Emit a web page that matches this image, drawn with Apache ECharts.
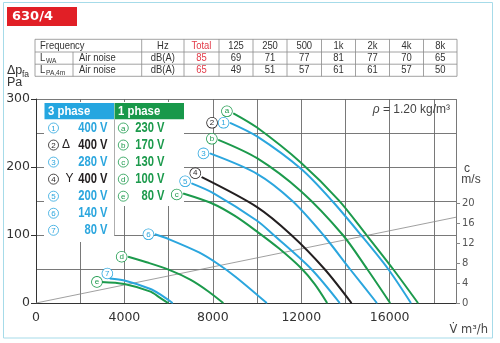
<!DOCTYPE html>
<html><head><meta charset="utf-8">
<script src="https://cdn.jsdelivr.net/npm/echarts@6/dist/echarts.min.js"></script>
<style>html,body{margin:0;padding:0;background:#fff}#c{width:500px;height:343px}</style>
</head><body><div id="c"></div>
<script>
// ---------- data ----------
const freqBands = ['125','250','500','1k','2k','4k','8k'];
const lwaValues = [69,71,77,81,77,70,65];
const lpaValues = [49,51,57,61,61,57,50];
const lwaTotal = 85;
const lpaTotal = 65;

const xTickLabels = [0,4000,8000,12000,16000];
const yTickLabels = [0,100,200,300];
const cTickLabels = [0,4,8,12,16,20];

// curves: [airflow m3/h, pressure Pa]
const curveA = [[8930,279],[10000,258],[12000,206],[13700,151],[14950,100],[16150,50],[17280,0]];
const curve1 = [[8780,265],[10000,245],[12000,197],[13400,150],[14700,100],[15930,50],[16960,0]];
const curveB = [[8250,240],[10000,213],[12000,164],[13880,100],[14980,50],[16020,0]];
const curve3 = [[7870,220],[10000,190],[11600,150],[13000,100],[14200,50],[15420,0]];
const curve4 = [[7500,185],[10000,141],[11550,100],[13050,50],[14270,0]];
const curve5 = [[7040,176],[8000,162],[10000,121],[10750,100],[12450,50],[13740,0]];
const curveC = [[6660,161],[8000,146],[9000,128],[10000,105],[11000,80],[12000,51],[12600,28],[13170,0]];
const curve6 = [[5380,101],[6000,94],[7400,74],[8250,57],[9050,38],[10440,0]];
const curveD = [[4170,68],[5000,60],[6000,49],[7000,34],[7800,17],[8470,0]];
const curve7 = [[3340,36],[4000,33],[5150,21],[5600,13],[6180,0]];
const curveE = [[2960,31],[4000,28],[5150,17],[5600,8],[5980,0]];
// velocity line: [airflow m3/h, c m/s]
const velocityLine = [[0,0],[19000,17.2]];

const threePhaseIds = ['1','2','3','4','5','6','7'];
const threePhaseMarks = ['','Δ','','Y','','',''];
const threePhaseVolts = ['400 V','400 V','280 V','400 V','200 V','140 V','80 V'];
const onePhaseIds = ['a','b','c','d','e'];
const onePhaseVolts = ['230 V','170 V','130 V','100 V','80 V'];

// ---------- styles ----------
const BLUE = '#2ba6de', GREEN = '#1c9a4c', BLACK = '#231f20', RED = '#e11f26';
const FONT = "'Liberation Sans', Arial, sans-serif";
const AXFONT = "'DejaVu Sans', sans-serif";

const el = [];
function txt(x, y, text, o) {
  o = o || {};
  el.push({type:'text', x:x, y:y, z:o.z||4, scaleX:o.sx||1,
    style:{text:text, fill:o.color||'#333', fontSize:o.size||11, fontFamily:o.family||FONT,
      fontWeight:o.weight||'normal', fontStyle:o.style||'normal', align:o.align||'left', verticalAlign:'middle'}});
}
function ln(x1,y1,x2,y2,color,w,z){ el.push({type:'line', z:z||4, shape:{x1:x1,y1:y1,x2:x2,y2:y2}, style:{stroke:color||'#888', lineWidth:w||0.8}}); }
function rect(x,y,w,h,fill,z){ el.push({type:'rect', z:z||1, shape:{x:x,y:y,width:w,height:h}, style:{fill:fill}}); }
function circ(cx,cy,label,color){
  el.push({type:'circle', z:4, shape:{cx:cx,cy:cy,r:5}, style:{fill:'#fff',stroke:color,lineWidth:0.8}});
  txt(cx,cy+0.5,label,{color:color,size:8,align:'center'});
}

// frame
el.push({type:'rect', z:0, shape:{x:3.5,y:2.5,width:489,height:335.5}, style:{fill:'none',stroke:'#a6dbe9',lineWidth:1}});
// title
rect(7,7,70,19,RED,2);
txt(12,16.5,'630/4',{color:'#fff',size:13,weight:'bold',family:AXFONT});

// table
const colX = [35,141.7,184,219,253,287,321.5,355.5,389.5,423.5,457];
const rowY = [39.3,52,64.2,76.3];
const TB = '#8a8a8a';
rowY.forEach(y => ln(35,y,457,y,TB,0.8));
colX.forEach(x => ln(x,39.3,x,76.3,TB,0.8));
ln(73,52,73,76.3,TB,0.8);
const tOpt = (extra) => Object.assign({size:11.5,sx:0.82,color:'#333'},extra||{});
const rc = [(rowY[0]+rowY[1])/2,(rowY[1]+rowY[2])/2,(rowY[2]+rowY[3])/2];
const mid = i => (colX[i]+colX[i+1])/2;
txt(40,rc[0],'Frequency',tOpt());
txt(mid(1),rc[0],'Hz',tOpt({align:'center'}));
txt(mid(2),rc[0],'Total',tOpt({align:'center',color:'#e23a48'}));
freqBands.forEach((f,i)=>txt(mid(3+i),rc[0],f,tOpt({align:'center'})));
txt(40,rc[1],'L',tOpt());
txt(46,rc[1]+2.5,'WA',tOpt({size:8}));
txt(79,rc[1],'Air noise',tOpt());
txt(mid(1),rc[1],'dB(A)',tOpt({align:'center'}));
txt(mid(2),rc[1],String(lwaTotal),tOpt({align:'center',color:'#e23a48'}));
lwaValues.forEach((v,i)=>txt(mid(3+i),rc[1],String(v),tOpt({align:'center'})));
txt(40,rc[2],'L',tOpt());
txt(46,rc[2]+2.5,'PA,4m',tOpt({size:8}));
txt(79,rc[2],'Air noise',tOpt());
txt(mid(1),rc[2],'dB(A)',tOpt({align:'center'}));
txt(mid(2),rc[2],String(lpaTotal),tOpt({align:'center',color:'#e23a48'}));
lpaValues.forEach((v,i)=>txt(mid(3+i),rc[2],String(v),tOpt({align:'center'})));

// y axis title
txt(7,71,'Δp',{size:12.5,color:'#333'});
txt(22,74.5,'fa',{size:8.5,color:'#333'});
txt(7,83,'Pa',{size:12.5,color:'#333'});
// right axis title
txt(467,169,'c',{size:12,color:'#444',align:'center'});
txt(471,180,'m/s',{size:12,color:'#444',align:'center'});
// x unit
txt(488,330,'V\u0307 m³/h',{size:11.5,color:'#444',align:'right',family:AXFONT});
// density
el.push({type:'text', x:450, y:110, z:4, style:{text:'{i|ρ} = 1.20 kg/m³', fill:'#444', fontSize:12, fontFamily:FONT, align:'right', verticalAlign:'middle',
  rich:{i:{fontStyle:'italic',fontSize:12,fontFamily:FONT,fill:'#444'}}}});

// legend box
rect(44,102,70,140,'#fff',1);
rect(114,102,70,104,'#fff',1);
rect(44.5,103,69.5,16.3,'#25a6e0',3);
rect(114.5,103,69.5,16.3,'#18984a',3);
ln(114.5,119.3,114.5,236,'#999',0.8,3);
txt(48,111.5,'3 phase',{color:'#fff',size:13.5,weight:'bold',sx:0.84});
txt(118,111.5,'1 phase',{color:'#fff',size:13.5,weight:'bold',sx:0.84});
threePhaseIds.forEach((id,i)=>{
  const y = 128 + i*17.05;
  const col = threePhaseMarks[i] ? BLACK : BLUE;
  circ(53.5,y,id,col);
  if (threePhaseMarks[i]) txt(threePhaseMarks[i]==='Δ'?66:69.5,y,threePhaseMarks[i],{color:BLACK,size:12,align:'center'});
  txt(107.5,y,threePhaseVolts[i],{color:col,size:14,weight:'bold',sx:0.8,align:'right'});
});
onePhaseIds.forEach((id,i)=>{
  const y = 128 + i*17.05;
  circ(123.3,y,id,GREEN);
  txt(164.5,y,onePhaseVolts[i],{color:GREEN,size:14,weight:'bold',sx:0.8,align:'right'});
});

// ---------- series ----------
const circleStyle = c => ({width:10,height:10,lineHeight:10,borderRadius:5.5,borderWidth:0.8,borderColor:c,color:c,
  backgroundColor:'#fff',fontSize:8,align:'center',fontFamily:FONT});
const rich = {cb:circleStyle(BLUE), cg:circleStyle(GREEN), ck:circleStyle(BLACK), sp:{width:1.5}};

function curve(name, data, color, fmt, offset) {
  return {
    name:name, type:'line', smooth:0.3, z:3,
    symbol:'circle', symbolSize:1, showSymbol:true,
    itemStyle:{color:color}, lineStyle:{color:color,width:2},
    data: data.map((p,i)=> i===0 ? {value:p, label:{show:true, position:'left', distance:1, offset:offset||[0,0],
      formatter:fmt, rich:rich}} : p),
    silent:true, animation:false
  };
}

const series = [
  {name:'c', type:'line', yAxisIndex:1, data:velocityLine, symbol:'none', lineStyle:{color:'#888',width:0.8}, z:2, silent:true, animation:false},
  curve('a', curveA, GREEN, '{cg|a}', [0,-2]),
  curve('1', curve1, BLUE, '{ck|2}{sp|}{cb|1}', [0,0]),
  curve('b', curveB, GREEN, '{cg|b}', [0,-1]),
  curve('3', curve3, BLUE, '{cb|3}', [0,0]),
  curve('4', curve4, BLACK, '{ck|4}', [0,-4]),
  curve('5', curve5, BLUE, '{cb|5}', [0,-2]),
  curve('c', curveC, GREEN, '{cg|c}', [0,1]),
  curve('6', curve6, BLUE, '{cb|6}', [0,0]),
  curve('d', curveD, GREEN, '{cg|d}', [0,0]),
  curve('7', curve7, BLUE, '{cb|7}', [4,-5]),
  curve('e', curveE, GREEN, '{cg|e}', [2,0])
];

const chart = echarts.init(document.getElementById('c'), null, {renderer:'canvas'});
chart.setOption({
  animation:false,
  grid:{left:36, right:44, top:99, bottom:40, containLabel:false},
  xAxis:{type:'value', min:0, max:19000, interval:2000,
    axisLine:{show:true, lineStyle:{color:'#333',width:1}},
    axisTick:{show:false},
    axisLabel:{fontSize:12.5, color:'#333', fontFamily:AXFONT, margin:8,
      formatter:v => xTickLabels.indexOf(v) >= 0 ? String(v) : ''},
    splitLine:{show:true, lineStyle:{color:'#6a6a6a', width:0.9}}},
  yAxis:[
    {type:'value', min:0, max:300, interval:100,
      axisLine:{show:true, lineStyle:{color:'#333',width:1}},
      axisTick:{show:true, length:5, lineStyle:{color:'#333'}},
      axisLabel:{fontSize:12.5, color:'#333', fontFamily:AXFONT, margin:6,
        formatter:v => yTickLabels.indexOf(v) >= 0 ? String(v) : ''},
      splitLine:{show:true, lineStyle:{color:'#6a6a6a', width:0.9}},
      minorTick:{show:false, splitNumber:2},
      minorSplitLine:{show:true, lineStyle:{color:'#6a6a6a', width:0.9}}},
    {type:'value', position:'right', min:0, max:40.9, interval:4,
      axisLine:{show:false},
      axisTick:{show:true, length:4, lineStyle:{color:'#888'}, customValues:cTickLabels},
      axisLabel:{fontSize:10, color:'#555', fontFamily:AXFONT, margin:6, customValues:cTickLabels,
        formatter:v => cTickLabels.indexOf(v) >= 0 ? String(v) : ''},
      splitLine:{show:false}}
  ],
  graphic:{elements:el},
  series:series
});
</script></body></html>
